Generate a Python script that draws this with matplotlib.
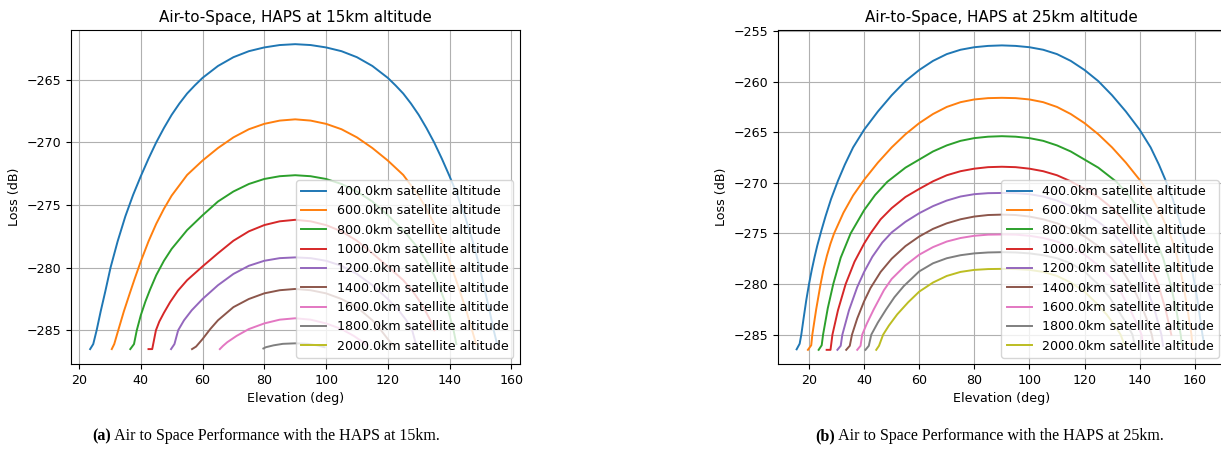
import matplotlib
matplotlib.use("Agg")
import matplotlib.pyplot as plt

sat_alt_labels = ["400.0km", "600.0km", "800.0km", "1000.0km", "1200.0km",
                  "1400.0km", "1600.0km", "1800.0km", "2000.0km"]

# ---------------- HAPS at 15 km ----------------
elev_15_400 = [23.6, 24.6, 25.7, 27.0, 28.5, 30.2, 32.5, 35, 37.5, 40, 42.5, 45, 47.5, 50, 52.5, 55, 57.5, 60,
               65, 70, 75, 80, 85, 90,
               95, 100, 105, 110, 115, 120, 122.5, 125, 127.5, 130, 132.5, 135, 137.5, 140, 142.5, 145, 147.5,
               149.8, 151.5, 153.0, 154.3, 155.4]
loss_15_400 = [-286.5, -286.1, -285.0, -283.5, -281.9, -280.0, -277.9, -275.9, -274.2, -272.7, -271.3, -270.0,
               -268.85, -267.8, -266.9, -266.1, -265.45, -264.85, -263.9, -263.2, -262.72, -262.42, -262.23,
               -262.16,
               -262.23, -262.42, -262.72, -263.2, -263.9, -264.85, -265.45, -266.1, -266.9, -267.8, -268.85,
               -270.0, -271.3, -272.7, -274.2, -275.9, -277.9, -280.0, -281.9, -283.5, -285.0, -286.1]

elev_15_600 = [30.6, 31.4, 32.7, 34.5, 36.5, 38, 40, 42.5, 45, 47.5, 50, 55, 60, 65, 70, 75, 80, 85, 90,
               95, 100, 105, 110, 115, 120, 125, 130, 132.5, 135, 137.5, 140, 142, 143.5, 145.5, 147.3, 148.6]
loss_15_600 = [-286.5, -286.1, -285.0, -283.5, -282.0, -280.9, -279.5, -277.9, -276.5, -275.3, -274.25, -272.6,
               -271.45, -270.45, -269.6, -268.95, -268.52, -268.26, -268.16,
               -268.26, -268.52, -268.95, -269.6, -270.45, -271.45, -272.6, -274.25, -275.3, -276.5, -277.9,
               -279.5, -280.9, -282.0, -283.5, -285.0, -286.1]

elev_15_800 = [36.6, 37.8, 38.7, 40, 41.5, 43, 45, 47.5, 50, 55, 60, 65, 70, 75, 80, 85, 90,
               95, 100, 105, 110, 115, 120, 125, 130, 132.5, 135, 137, 138.5, 140, 141.3, 142.2]
loss_15_800 = [-286.5, -286.1, -285.0, -283.8, -282.7, -281.75, -280.6, -279.45, -278.5, -277.0, -275.82,
               -274.72, -273.92, -273.32, -272.92, -272.7, -272.62,
               -272.7, -272.92, -273.32, -273.92, -274.72, -275.82, -277.0, -278.5, -279.45, -280.6, -281.75,
               -282.7, -283.8, -285.0, -286.1]

elev_15_1000 = [42.5, 43.7, 44.9, 46, 47.5, 49.5, 52, 55, 60, 65, 70, 75, 80, 85, 90,
                95, 100, 105, 110, 115, 120, 125, 128, 130.5, 132.5, 134, 135.1]
loss_15_1000 = [-286.5, -286.5, -285.0, -284.3, -283.6, -282.75, -281.85, -281.0, -279.9, -278.85, -277.85,
                -277.1, -276.6, -276.3, -276.18,
                -276.3, -276.6, -277.1, -277.85, -278.85, -279.9, -281.0, -281.85, -282.75, -283.6, -284.3,
                -285.0]

elev_15_1200 = [49.8, 50.9, 52.1, 54, 56.5, 60, 65, 70, 75, 80, 85, 90,
                95, 100, 105, 110, 115, 120, 123.5, 126, 127.9, 129.1]
loss_15_1200 = [-286.5, -286.1, -285.0, -284.2, -283.4, -282.5, -281.4, -280.5, -279.85, -279.45, -279.24,
                -279.18,
                -279.24, -279.45, -279.85, -280.5, -281.4, -282.5, -283.4, -284.2, -285.0, -286.1]

elev_15_1400 = [56.6, 57.9, 60, 62.5, 65, 70, 75, 80, 85, 90,
                95, 100, 105, 110, 115, 117.5, 120, 122.1]
loss_15_1400 = [-286.5, -286.3, -285.7, -284.9, -284.2, -283.15, -282.5, -282.05, -281.8, -281.7,
                -281.8, -282.05, -282.5, -283.15, -284.2, -284.9, -285.7, -286.3]

elev_15_1600 = [65.6, 66.6, 68, 71, 75, 80, 85, 90,
                95, 100, 105, 109, 112, 113.4]
loss_15_1600 = [-286.5, -286.25, -285.95, -285.45, -284.9, -284.45, -284.15, -284.04,
                -284.15, -284.45, -284.9, -285.45, -285.95, -286.25]

elev_15_1800 = [79.7, 80.5, 83, 86, 90, 94, 97, 99.5]
loss_15_1800 = [-286.45, -286.35, -286.2, -286.08, -286.04, -286.08, -286.2, -286.35]

elev_15_2000 = []
loss_15_2000 = []

# ---------------- HAPS at 25 km ----------------
elev_25_400 = [15.5, 16.6, 17.2, 18, 19, 20, 21, 22, 23, 24.5, 26, 28, 30.5, 33, 36, 40, 45, 50, 55, 60,
               65, 70, 75, 80, 85, 90,
               95, 100, 105, 110, 115, 120, 125, 130, 135, 140, 144, 147, 149.5, 152, 154, 155.5, 157, 158,
               159, 160, 161, 162, 162.8, 163.4]
loss_25_400 = [-286.45, -285.9, -285.0, -283.45, -281.6, -280.0, -278.6, -277.35, -276.2, -274.7, -273.3,
               -271.6, -269.8, -268.2, -266.5, -264.75, -262.95, -261.35, -259.95, -258.85, -257.95, -257.28,
               -256.85, -256.6, -256.47, -256.42,
               -256.47, -256.6, -256.85, -257.28, -257.95, -258.85, -259.95, -261.35, -262.95, -264.75,
               -266.5, -268.2, -269.8, -271.6, -273.3, -274.7, -276.2, -277.35, -278.6, -280.0, -281.6,
               -283.45, -285.0, -285.9]

elev_25_600 = [19.6, 20.8, 21.2, 22.6, 24.2, 25.3, 26.5, 27.8, 29.1, 32.5, 36, 40, 45, 50, 55, 60, 65, 70,
               75, 80, 85, 90,
               95, 100, 105, 110, 115, 120, 125, 130, 135, 140, 144, 147.5, 150.9, 152.2, 153.5, 154.7,
               155.8, 157.4, 158.8, 159.2]
loss_25_600 = [-286.5, -286.05, -285.0, -282.5, -280.0, -278.5, -277.2, -276.0, -275.0, -272.95, -271.25,
               -269.7, -268.0, -266.5, -265.2, -264.1, -263.2, -262.5, -262.03, -261.76, -261.63, -261.6,
               -261.63, -261.76, -262.03, -262.5, -263.2, -264.1, -265.2, -266.5, -268.0, -269.7, -271.25,
               -272.95, -275.0, -276.0, -277.2, -278.5, -280.0, -282.5, -285.0, -286.05]

elev_25_800 = [23.5, 24.6, 25.1, 26.8, 28.8, 31.5, 35.1, 40, 44, 48.4, 55, 60, 65, 70, 75, 80, 85, 90,
               95, 100, 105, 110, 115, 120, 125, 131.6, 136, 140, 144.9, 148.5, 151.2, 153.2, 154.9, 155.4]
loss_25_800 = [-286.5, -286.05, -285.0, -282.4, -280.0, -277.4, -275.0, -272.7, -271.2, -269.9, -268.5,
               -267.7, -266.9, -266.3, -265.85, -265.58, -265.44, -265.39,
               -265.44, -265.58, -265.85, -266.3, -266.9, -267.7, -268.5, -269.9, -271.2, -272.7, -275.0,
               -277.4, -280.0, -282.4, -285.0, -286.05]

elev_25_1000 = [26.4, 27.8, 28.5, 30.5, 33.3, 36.5, 40, 42.3, 46, 50, 55, 60, 65, 70, 75, 80, 85, 90,
                95, 100, 105, 110, 115, 120, 125, 130, 134, 137.7, 140, 143.5, 146.7, 149.5, 151.5]
loss_25_1000 = [-286.5, -286.5, -285.0, -282.6, -280.0, -277.8, -276.0, -275.0, -273.6, -272.5, -271.4,
                -270.6, -269.85, -269.25, -268.85, -268.6, -268.45, -268.41,
                -268.45, -268.6, -268.85, -269.25, -269.85, -270.6, -271.4, -272.5, -273.6, -275.0, -276.0,
                -277.8, -280.0, -282.6, -285.0]

elev_25_1200 = [30.3, 31.5, 32.1, 34.5, 37.5, 40, 43, 46.6, 50, 55, 60, 65, 70, 75, 80, 85, 90,
                95, 100, 105, 110, 115, 120, 125, 130, 133.4, 137, 140, 142.5, 145.5, 147.9, 148.5]
loss_25_1200 = [-286.5, -286.1, -285.0, -282.6, -280.3, -278.8, -277.3, -275.9, -274.9, -273.85, -273.0,
                -272.3, -271.75, -271.35, -271.12, -271.02, -271.0,
                -271.02, -271.12, -271.35, -271.75, -272.3, -273.0, -273.85, -274.9, -275.9, -277.3, -278.8,
                -280.3, -282.6, -285.0, -286.1]

elev_25_1400 = [33.5, 34.8, 35.6, 37.5, 40, 42.3, 46, 50, 55, 60, 65, 70, 75, 80, 85, 90,
                95, 100, 105, 110, 115, 120, 125, 130, 134, 137.7, 140, 142.5, 144.4, 145.2]
loss_25_1400 = [-286.5, -286.1, -285.0, -283.4, -281.7, -280.4, -278.8, -277.5, -276.25, -275.3, -274.55,
                -274.0, -273.6, -273.33, -273.18, -273.14,
                -273.18, -273.33, -273.6, -274.0, -274.55, -275.3, -276.25, -277.5, -278.8, -280.4, -281.7,
                -283.4, -285.0, -286.1]

elev_25_1600 = [37.5, 38.7, 39.3, 41, 43.5, 47.2, 50, 55, 60, 65, 70, 75, 80, 85, 90,
                95, 100, 105, 110, 115, 120, 125, 130, 132.8, 136.5, 139, 140.7, 141.3]
loss_25_1600 = [-286.5, -286.1, -285.0, -283.9, -282.5, -280.6, -279.5, -278.15, -277.1, -276.35, -275.8,
                -275.45, -275.23, -275.12, -275.1,
                -275.12, -275.23, -275.45, -275.8, -276.35, -277.1, -278.15, -279.5, -280.6, -282.5, -283.9,
                -285.0, -286.1]

elev_25_1800 = [40.5, 41.7, 42.6, 45, 48, 51, 54.4, 60, 65, 70, 75, 80, 85, 90,
                95, 100, 105, 110, 115, 120, 125.6, 129, 132, 135, 137.4, 138.3]
loss_25_1800 = [-286.5, -286.1, -285.0, -283.8, -282.5, -281.3, -280.2, -278.75, -277.95, -277.45, -277.15,
                -276.97, -276.88, -276.85,
                -276.88, -276.97, -277.15, -277.45, -277.95, -278.75, -280.2, -281.3, -282.5, -283.8, -285.0,
                -286.1]

elev_25_2000 = [44.4, 45.4, 46.9, 49, 52, 56, 60, 65, 70, 75, 80, 85, 90,
                95, 100, 105, 110, 115, 120, 124, 128, 131, 133.1, 134.6]
loss_25_2000 = [-286.5, -286.1, -285.0, -284.1, -283.0, -281.8, -280.75, -279.85, -279.2, -278.8, -278.6,
                -278.52, -278.5,
                -278.52, -278.6, -278.8, -279.2, -279.85, -280.75, -281.8, -283.0, -284.1, -285.0, -286.1]

panel_titles = ["Air-to-Space, HAPS at 15km altitude", "Air-to-Space, HAPS at 25km altitude"]
caption_tags = ["(a)", "(b)"]
caption_texts = ["Air to Space Performance with the HAPS at 15km.",
                 "Air to Space Performance with the HAPS at 25km."]

series_15 = [(elev_15_400, loss_15_400), (elev_15_600, loss_15_600), (elev_15_800, loss_15_800),
             (elev_15_1000, loss_15_1000), (elev_15_1200, loss_15_1200), (elev_15_1400, loss_15_1400),
             (elev_15_1600, loss_15_1600), (elev_15_1800, loss_15_1800), (elev_15_2000, loss_15_2000)]
series_25 = [(elev_25_400, loss_25_400), (elev_25_600, loss_25_600), (elev_25_800, loss_25_800),
             (elev_25_1000, loss_25_1000), (elev_25_1200, loss_25_1200), (elev_25_1400, loss_25_1400),
             (elev_25_1600, loss_25_1600), (elev_25_1800, loss_25_1800), (elev_25_2000, loss_25_2000)]

plt.rcParams["font.family"] = "DejaVu Sans"
plt.rcParams["font.size"] = 9.1

fig = plt.figure(figsize=(12.21, 4.5), dpi=100)
ax_a = fig.add_axes([0.0579, 0.1911, 0.3677, 0.7422])
# the right-hand panel runs slightly past the edge of the canvas
ax_b = fig.add_axes([0.6372, 0.1911, 0.3661, 0.7422])

for ax, series, title in [(ax_a, series_15, panel_titles[0]), (ax_b, series_25, panel_titles[1])]:
    for (el, ls), lab in zip(series, sat_alt_labels):
        ax.plot(el, ls, linewidth=1.4, label=f"{lab} satellite altitude")
    ax.grid(True)
    ax.set_title(title)
    ax.set_xlabel("Elevation (deg)")
    ax.set_ylabel("Loss (dB)")
    ax.legend(loc="lower right")

ax_a.set_xlim(17.3, 162.7)
ax_a.set_ylim(-287.69, -261.03)
ax_a.set_xticks([20, 40, 60, 80, 100, 120, 140, 160])
ax_a.set_yticks([-285, -280, -275, -270, -265])
ax_b.set_xlim(8.75, 171.0)
ax_b.set_ylim(-287.9, -254.9)
ax_b.set_xticks([20, 40, 60, 80, 100, 120, 140, 160])
ax_b.set_yticks([-285, -280, -275, -270, -265, -260, -255])

# figure captions: bold tag followed by regular text, centred as one line
fig.canvas.draw()
renderer = fig.canvas.get_renderer()
for xc, tag, text in zip([0.218, 0.81], caption_tags, caption_texts):
    t1 = fig.text(0, 0.031, tag, ha="left", va="center", family="Liberation Serif",
                  fontsize=11.5, fontweight="bold")
    t2 = fig.text(0, 0.031, " " + text, ha="left", va="center", family="Liberation Serif",
                  fontsize=11.5)
    w1 = t1.get_window_extent(renderer).width / fig.bbox.width
    w2 = t2.get_window_extent(renderer).width / fig.bbox.width
    x0 = xc - (w1 + w2) / 2
    t1.set_x(x0)
    t2.set_x(x0 + w1)

fig.savefig("out.png", dpi=100)
